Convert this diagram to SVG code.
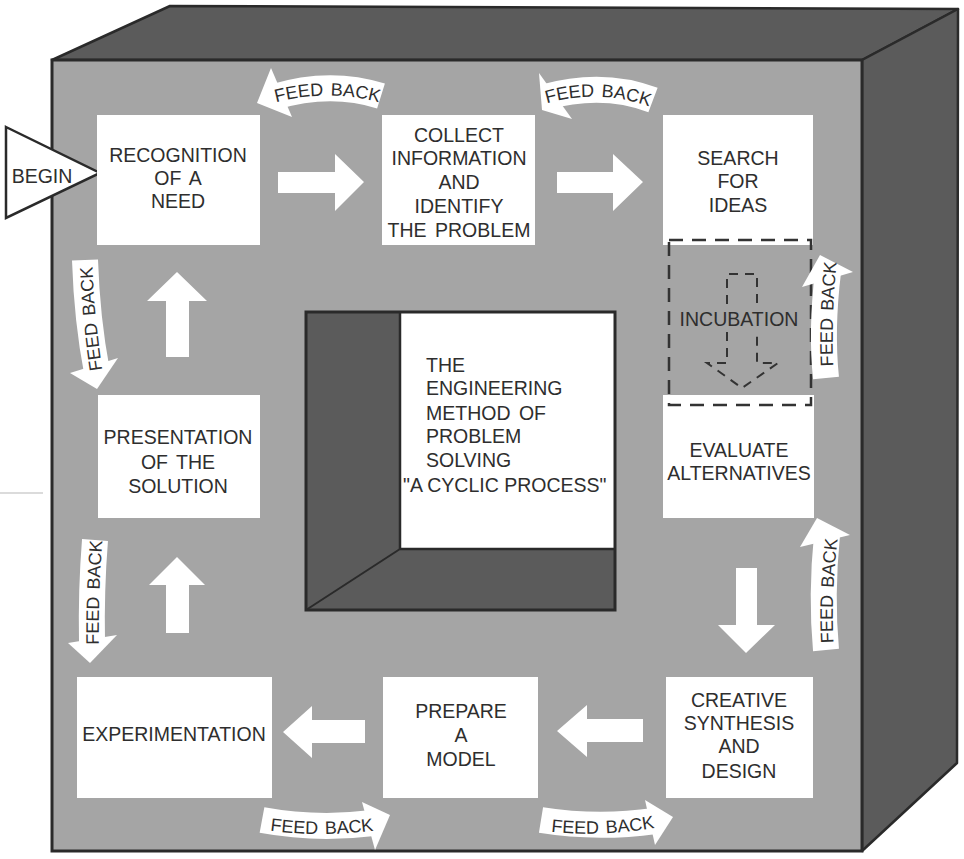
<svg xmlns="http://www.w3.org/2000/svg" width="964" height="859" viewBox="0 0 964 859">
  <style>
    .face { fill: #a5a5a5; }
    .shade { fill: #5b5b5b; stroke: #2a2a2a; stroke-width: 2.5; stroke-linejoin: round; }
    .edge { fill: none; stroke: #2a2a2a; stroke-width: 3; }
    .box { fill: #ffffff; }
    .lbl { font-family: "Liberation Sans", Arial, sans-serif; font-size: 19.5px; fill: #2e2e2e; text-anchor: middle; word-spacing: 3px; }
    .left { text-anchor: start; }
    .flow { fill: #ffffff; }
    .band { fill: none; stroke: #ffffff; stroke-width: 26; stroke-linecap: butt; }
    .head { fill: #ffffff; }
    .fbtext { font-family: "Liberation Sans", Arial, sans-serif; font-size: 18px; fill: #2e2e2e; word-spacing: 2px; }
    .dash { fill: none; stroke: #333333; stroke-width: 2.5; stroke-dasharray: 14 9; }
    .dash2 { fill: none; stroke: #333333; stroke-width: 2; stroke-dasharray: 9 7; }
  </style>
  <defs>
    <!-- baselines for the curved FEED BACK labels -->
    <path id="t1" d="M274,103 Q328,88 381,103"/>
    <path id="t2" d="M545,104 Q598,88 651,107"/>
    <path id="t3" d="M834,378 Q830,320 838,250"/>
    <path id="t4" d="M834,652 Q830,595 839,530"/>
    <path id="t5" d="M104,380 Q94,320 92,256"/>
    <path id="t6" d="M99,652 Q98,595 103,533"/>
    <path id="t7" d="M266,830 Q320,838 378,830"/>
    <path id="t8" d="M546,831 Q600,838 660,827"/>
  </defs>

  <!-- white page -->
  <rect x="0" y="0" width="964" height="859" fill="#ffffff"/>
  <line x1="0" y1="493" x2="43" y2="493" stroke="#cfcfcf" stroke-width="1.5"/>

  <!-- the big block: top face, right face, front face -->
  <g id="block">
    <polygon class="shade" points="52,60 170,6 958,9 862,60"/>
    <polygon class="shade" points="862,60 958,9 957,763 862,851"/>
    <rect class="face" x="52" y="60" width="810" height="791"/>
    <rect class="edge" x="52" y="60" width="810" height="791"/>
  </g>

  <!-- central recessed panel -->
  <g id="center">
    <rect x="306" y="312" width="309" height="298" fill="#5b5b5b"/>
    <rect class="box" x="400" y="312" width="215" height="237"/>
    <line x1="400" y1="312" x2="400" y2="549" stroke="#2a2a2a" stroke-width="2.5"/>
    <line x1="400" y1="549" x2="615" y2="549" stroke="#2a2a2a" stroke-width="2.5"/>
    <line x1="400" y1="549" x2="306" y2="610" stroke="#2a2a2a" stroke-width="2"/>
    <rect x="306" y="312" width="309" height="298" fill="none" stroke="#2a2a2a" stroke-width="3"/>
    <text class="lbl left" x="426" y="372">THE</text>
    <text class="lbl left" x="426" y="395">ENGINEERING</text>
    <text class="lbl left" x="426" y="420">METHOD OF</text>
    <text class="lbl left" x="426" y="443">PROBLEM</text>
    <text class="lbl left" x="426" y="467">SOLVING</text>
    <text class="lbl left" x="403" y="492" style="word-spacing:0">"A CYCLIC PROCESS"</text>
  </g>

  <g id="begin">
    <polygon points="6,127 100,173 6,218" fill="#ffffff" stroke="#2a2a2a" stroke-width="2.5" stroke-linejoin="miter"/>
    <text class="lbl" x="42" y="183">BEGIN</text>
  </g>

  <g id="recognition">
    <rect class="box" x="97" y="115" width="163" height="130"/>
    <text class="lbl" x="178" y="162">RECOGNITION</text>
    <text class="lbl" x="178" y="185">OF A</text>
    <text class="lbl" x="178" y="208">NEED</text>
  </g>

  <g id="collect">
    <rect class="box" x="382" y="115" width="153" height="130"/>
    <text class="lbl" x="459" y="142">COLLECT</text>
    <text class="lbl" x="459" y="165">INFORMATION</text>
    <text class="lbl" x="459" y="189">AND</text>
    <text class="lbl" x="459" y="213">IDENTIFY</text>
    <text class="lbl" x="459" y="237">THE PROBLEM</text>
  </g>

  <g id="search">
    <rect class="box" x="663" y="115" width="150" height="130"/>
    <text class="lbl" x="738" y="165">SEARCH</text>
    <text class="lbl" x="738" y="188">FOR</text>
    <text class="lbl" x="738" y="212">IDEAS</text>
  </g>

  <g id="evaluate">
    <rect class="box" x="663" y="395" width="151" height="123"/>
    <text class="lbl" x="739" y="457">EVALUATE</text>
    <text class="lbl" x="739" y="480">ALTERNATIVES</text>
  </g>

  <g id="incubation">
    <rect class="dash" x="669" y="240" width="142" height="165"/>
    <path class="dash2" d="M727,304 L727,274 L757,274 L757,304"/>
    <path class="dash2" d="M727,332 L727,363 L707,363 L742,388 L778,363 L757,363 L757,332"/>
    <text class="lbl" x="739" y="326">INCUBATION</text>
  </g>

  <g id="creative">
    <rect class="box" x="666" y="677" width="147" height="121"/>
    <text class="lbl" x="739" y="707">CREATIVE</text>
    <text class="lbl" x="739" y="730">SYNTHESIS</text>
    <text class="lbl" x="739" y="753">AND</text>
    <text class="lbl" x="739" y="778">DESIGN</text>
  </g>

  <g id="model">
    <rect class="box" x="383" y="677" width="155" height="121"/>
    <text class="lbl" x="461" y="718">PREPARE</text>
    <text class="lbl" x="461" y="742">A</text>
    <text class="lbl" x="461" y="766">MODEL</text>
  </g>

  <g id="experimentation">
    <rect class="box" x="77" y="677" width="195" height="121"/>
    <text class="lbl" x="174" y="741">EXPERIMENTATION</text>
  </g>

  <g id="presentation">
    <rect class="box" x="98" y="395" width="162" height="123"/>
    <text class="lbl" x="178" y="444">PRESENTATION</text>
    <text class="lbl" x="178" y="469">OF THE</text>
    <text class="lbl" x="178" y="493">SOLUTION</text>
  </g>

  <g id="connectors">
    <!-- forward flow arrows -->
    <polygon class="flow" points="278,172 335,172 335,154 364,182 335,211 335,193 278,193"/>
    <polygon class="flow" points="557,172 613,172 613,154 643,182 613,211 613,193 557,193"/>
    <polygon class="flow" points="736,568 757,568 757,625 775,625 746,653 718,625 736,625"/>
    <polygon class="flow" points="643,719 587,719 587,705 557,731 587,757 587,742 643,742"/>
    <polygon class="flow" points="365,720 312,720 312,706 283,732 312,758 312,743 365,743"/>
    <polygon class="flow" points="166,633 166,585 149,585 177,557 205,585 189,585 189,633"/>
    <polygon class="flow" points="166,357 166,301 147,301 177,272 207,301 189,301 189,357"/>

    <!-- feedback arrows -->
    <path class="band" d="M381,96 Q330,80 274,97"/>
    <polygon class="head" points="271,68 257,103 292,117"/>
    <text class="fbtext"><textPath href="#t1" startOffset="50%" text-anchor="middle">FEED BACK</textPath></text>

    <path class="band" d="M653,100 Q603,81 545,97"/>
    <polygon class="head" points="539,73 542,110 572,119"/>
    <text class="fbtext"><textPath href="#t2" startOffset="50%" text-anchor="middle">FEED BACK</textPath></text>

    <path class="band" d="M826,378 Q821,330 828,272"/>
    <polygon class="head" points="802,287 820,255 853,272"/>
    <text class="fbtext"><textPath href="#t3" startOffset="50%" text-anchor="middle">FEED BACK</textPath></text>

    <path class="band" d="M826,650 Q821,595 827,535"/>
    <polygon class="head" points="800,547 817,518 850,535"/>
    <text class="fbtext"><textPath href="#t4" startOffset="50%" text-anchor="middle">FEED BACK</textPath></text>

    <path class="band" d="M85,260 Q87,320 97,372"/>
    <polygon class="head" points="70,373 118,358 97,389"/>
    <text class="fbtext"><textPath href="#t5" startOffset="50%" text-anchor="middle">FEED BACK</textPath></text>

    <path class="band" d="M95,540 Q91,590 92,642"/>
    <polygon class="head" points="68,643 117,635 90,663"/>
    <text class="fbtext"><textPath href="#t6" startOffset="50%" text-anchor="middle">FEED BACK</textPath></text>

    <path class="band" d="M262,820 Q316,830 373,823"/>
    <polygon class="head" points="362,802 390,815 375,850"/>
    <text class="fbtext"><textPath href="#t7" startOffset="50%" text-anchor="middle">FEED BACK</textPath></text>

    <path class="band" d="M541,820 Q597,829 655,821"/>
    <polygon class="head" points="645,800 673,817 655,845"/>
    <text class="fbtext"><textPath href="#t8" startOffset="50%" text-anchor="middle">FEED BACK</textPath></text>
  </g>
</svg>
